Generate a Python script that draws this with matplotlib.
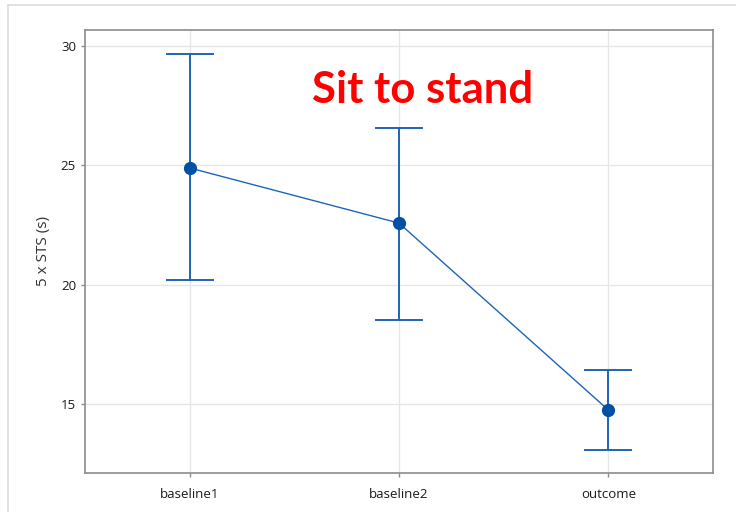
import matplotlib
matplotlib.use('Agg')
import matplotlib.pyplot as plt
from matplotlib.lines import Line2D

plt.rcParams['font.family'] = ['Open Sans', 'DejaVu Sans']

categories = ['baseline1', 'baseline2', 'outcome']
means = [24.89, 22.58, 14.75]
upper = [29.66, 26.56, 16.43]
lower = [20.20, 18.52, 13.08]

blue = '#1f64b4'
dot = '#0050a5'

fig = plt.figure(figsize=(7.36, 5.12), dpi=100)
ax = fig.add_axes([85 / 736, 1 - 473 / 512, (713 - 85) / 736, (473 - 30) / 512])

x = list(range(len(categories)))
yerr = [[m - l for m, l in zip(means, lower)], [u - m for u, m in zip(upper, means)]]

ax.plot(x, means, color=blue, lw=1.0, zorder=3)
ax.errorbar(x, means, yerr=yerr, fmt='none', ecolor=blue, elinewidth=1.4,
            capsize=17.5, capthick=1.4, zorder=3)
ax.plot(x, means, 'o', color=dot, ms=8.5, zorder=4)

ax.set_xlim(-0.5, 2.5)
ax.set_ylim(12.11, 30.67)
ax.set_yticks([15, 20, 25, 30])
ax.set_xticks(x)
ax.set_xticklabels(categories)
ax.grid(True, color='#e6e6e6', lw=1.0, zorder=0)
ax.set_axisbelow(True)

for s in ax.spines.values():
    s.set_color('#8c8c8c')
    s.set_linewidth(1.2)
ax.tick_params(axis='both', colors='#8c8c8c', labelcolor='#1a1a1a', labelsize=9.5,
               length=3, width=1)
ax.tick_params(axis='x', pad=8)

ax.set_ylabel('5 x STS (s)', fontsize=11, color='#333333', labelpad=7)

ax.text(0.538, 0.865, 'Sit to stand', transform=ax.transAxes, color='red',
        fontsize=31.5, fontweight='bold', ha='center', va='center',
        family=['Lato', 'DejaVu Sans'])

# outer frame lines
fig.add_artist(Line2D([8 / 736, 8 / 736], [0, 1 - 5 / 512], transform=fig.transFigure,
                      color='#dcdcdc', lw=1.2))
fig.add_artist(Line2D([8 / 736, 1], [1 - 5 / 512, 1 - 5 / 512], transform=fig.transFigure,
                      color='#dcdcdc', lw=1.2))

fig.savefig('out.png', dpi=100)
